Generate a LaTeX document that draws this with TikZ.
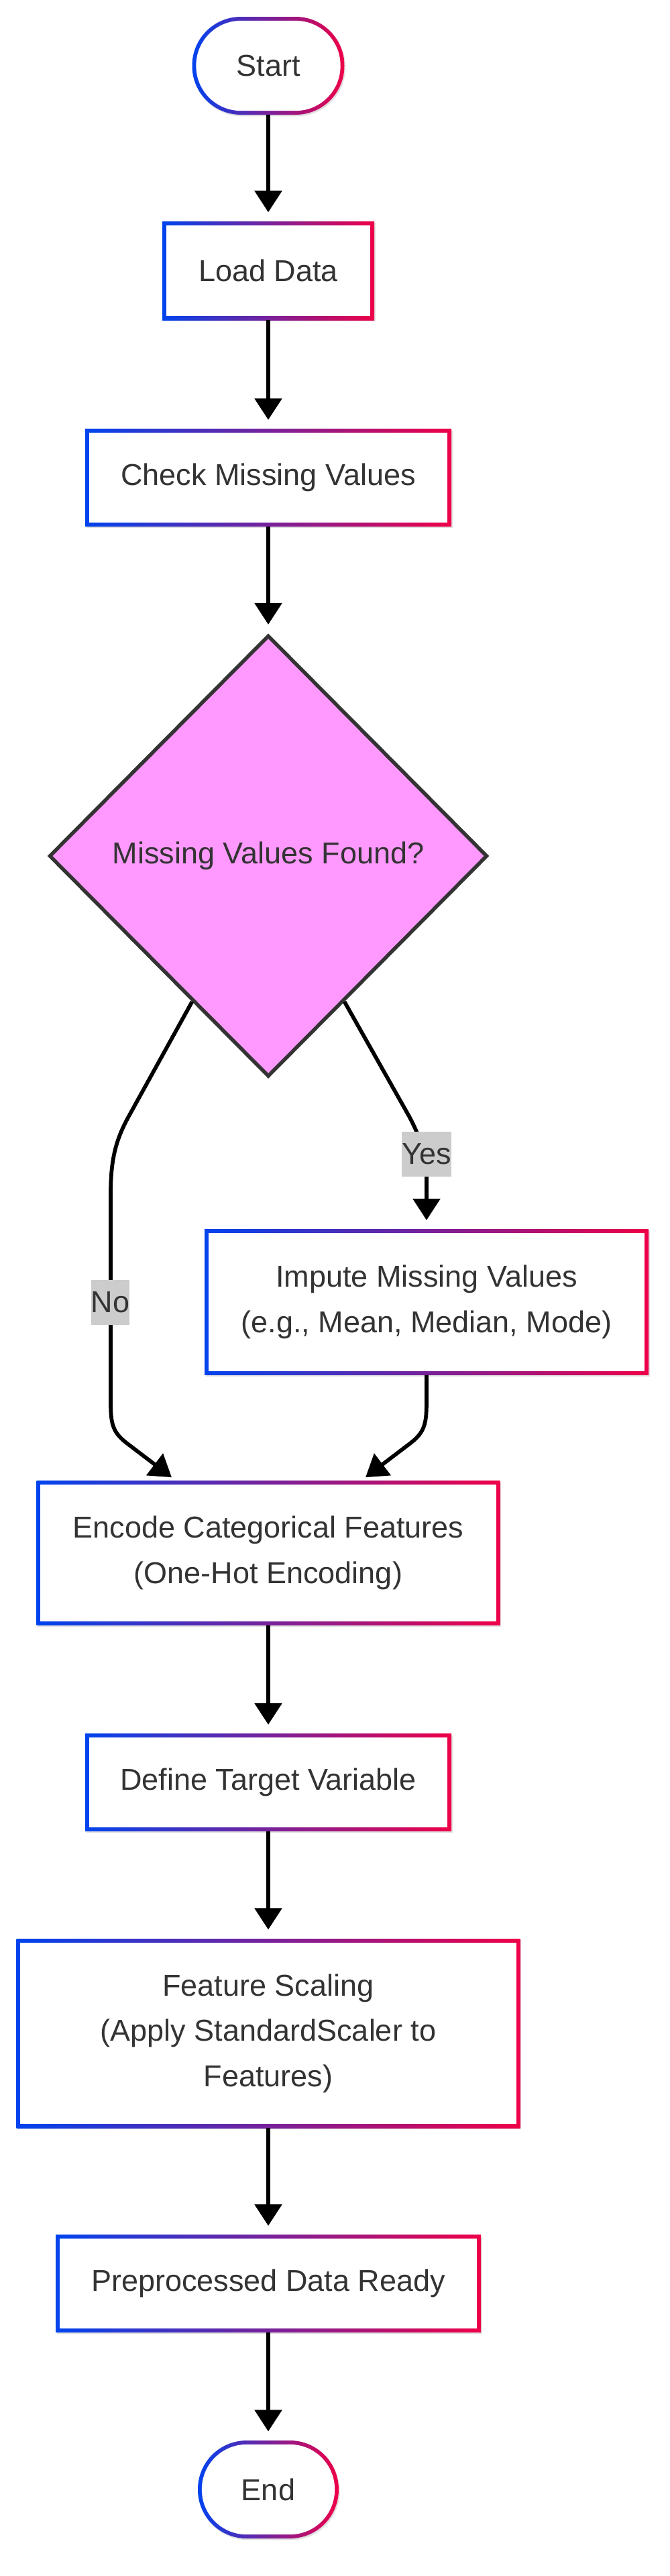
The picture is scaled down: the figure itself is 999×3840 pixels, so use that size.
\documentclass[tikz,border=0pt]{standalone}
\usepackage{fontspec}
\setmainfont{Liberation Sans}
\usetikzlibrary{arrows.meta,shapes.geometric,shadows,calc}
\definecolor{gA}{HTML}{0043EE}
\definecolor{gB}{HTML}{EE0048}
\definecolor{txt}{HTML}{333333}
\definecolor{dfill}{HTML}{FF99FF}
\definecolor{dline}{HTML}{333333}
\definecolor{lbl}{HTML}{CCCCCC}
\newcommand{\gbw}{4.4pt}
\tikzset{
  base/.style={font=\fontsize{33.75pt}{50.6pt}\selectfont, text=txt, align=center, inner sep=0pt},
  softshadow/.style={drop shadow={shadow xshift=1.2pt, shadow yshift=-1.8pt, opacity=0.12, fill=black}},
  gbox/.style 2 args={base, rectangle, fill=white, minimum width=#1, minimum height=#2, softshadow,
    path picture={
      \shade[left color=gA, right color=gB] (path picture bounding box.south west) rectangle (path picture bounding box.north east);
      \fill[white, sharp corners] ([xshift=\gbw,yshift=\gbw]path picture bounding box.south west) rectangle ([xshift=-\gbw,yshift=-\gbw]path picture bounding box.north east);
    }},
  stad/.style 2 args={base, rectangle, rounded corners=54.5pt, fill=white, minimum width=#1, minimum height=#2, softshadow,
    path picture={
      \shade[left color=gA, right color=gB] (path picture bounding box.south west) rectangle (path picture bounding box.north east);
      \fill[white, rounded corners=50.1pt] ([xshift=\gbw,yshift=\gbw]path picture bounding box.south west) rectangle ([xshift=-\gbw,yshift=-\gbw]path picture bounding box.north east);
    }},
  dec/.style={base, diamond, fill=dfill, draw=dline, line width=4.1pt, minimum width=490pt, minimum height=493.5pt, softshadow},
  lab/.style={base, fill=lbl, inner xsep=0pt, minimum height=50.5pt},
  arr/.style={line width=4.3pt, black, -{Triangle[length=24pt,width=30pt]}, shorten >=10pt},
  arrc/.style={line width=4.3pt, black, -{Triangle[length=24pt,width=30pt]}},
}
\begin{document}
\begin{tikzpicture}[x=0.75pt,y=-0.75pt]
\useasboundingbox (0,0) rectangle (999,3840);

\node[stad={170.25pt}{109.5pt}] (start) at (400,98) {Start};
\node[gbox={237pt}{110.25pt}] (load) at (400,403.5) {Load Data};
\node[gbox={409.5pt}{108.75pt}] (check) at (400,712) {Check Missing Values};
\node[dec] (dec) at (400,1276) {Missing Values Found?};
\node[gbox={496.5pt}{162.75pt}] (imp) at (636,1941) {Impute Missing Values\\(e.g., Mean, Median, Mode)};
\node[gbox={518.25pt}{161.25pt}] (enc) at (400,2315) {Encode Categorical Features\\(One-Hot Encoding)};
\node[gbox={409.5pt}{108.75pt}] (def) at (400,2657) {Define Target Variable};
\node[gbox={563.25pt}{211.5pt}] (fs) at (400,3031) {Feature Scaling\\(Apply StandardScaler to\\Features)};
\node[gbox={475.5pt}{108.75pt}] (prep) at (400,3404) {Preprocessed Data Ready};
\node[stad={157.5pt}{109.5pt}] (end) at (400,3711) {End};

\coordinate (nA) at ($(dec.west)!0.655!(dec.south)$);
\coordinate (yA) at ($(dec.east)!0.655!(dec.south)$);
\coordinate (eL) at ($(enc.north)+(-144,-5)$);
\coordinate (eR) at ($(enc.north)+(145,-5)$);

\draw[arr] (start) -- (load);
\draw[arr] (load) -- (check);
\draw[arr] (check) -- (dec);
\draw[arrc] (nA) -- (192,1664) .. controls (172,1700) and (165,1730) .. (165,1780) -- (165,2085) .. controls (165,2120) and (166,2134) .. (190,2152) -- (eL);
\draw[arr] (yA) -- (610,1664) .. controls (629,1700) and (636,1725) .. (636,1760) -- (imp.north);
\draw[arrc] (imp.south) -- (636,2085) .. controls (636,2120) and (635,2134) .. (611,2152) -- (eR);
\draw[arr] (enc) -- (def);
\draw[arr] (def) -- (fs);
\draw[arr] (fs) -- (prep);
\draw[arr] (prep) -- (end);

\node[lab] (yes) at (636,1720.5) {Yes};
\node[lab] (no) at (164.5,1941.5) {No};
\end{tikzpicture}
\end{document}
